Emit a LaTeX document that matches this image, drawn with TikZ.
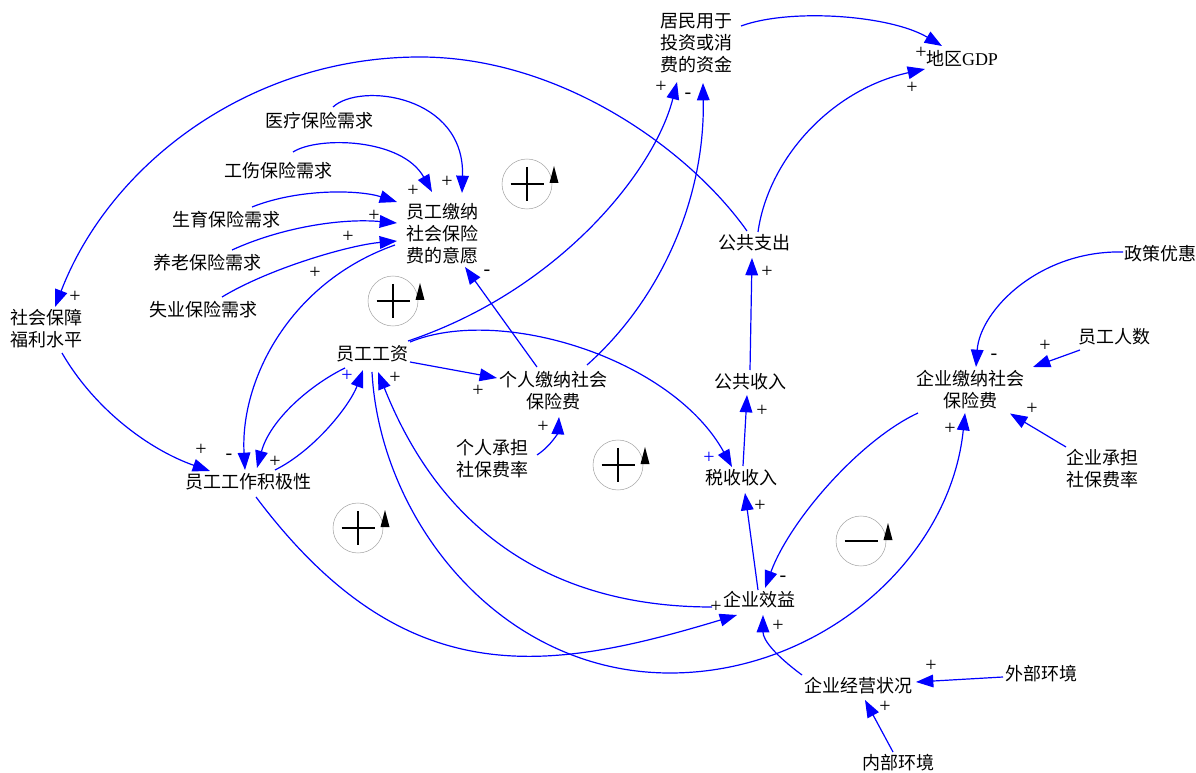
\documentclass[tikz,border=0pt]{standalone}
\usepackage{fontspec}
\setmainfont{Liberation Serif}
\newfontfamily\cjk{Noto Sans CJK SC}
\newfontfamily\lat{Liberation Serif}
\usetikzlibrary{arrows.meta}
\begin{document}
\begin{tikzpicture}[x=0.75pt,y=-0.75pt,
  lbl/.style={font=\cjk\fontsize{13.5}{16.5}\selectfont, align=center, inner sep=2pt},
  lnk/.style={draw=blue, line width=0.9pt, -{Triangle[length=13pt,width=9.5pt]}},
  pol/.style={font=\lat\fontsize{15}{16}\selectfont, inner sep=0pt},
  bpol/.style={pol, text=blue},
  loopplus/.pic={
    \draw[gray!70, line width=0.4pt] (0,0) circle[radius=18.75pt];
    \draw[line width=2.2pt] (-16.5,0) -- (16.5,0) (0,-17) -- (0,17);
    \fill (27,-18) -- (22.5,-1) -- (31.5,-1) -- cycle;
  },
  loopminus/.pic={
    \draw[gray!70, line width=0.4pt] (0,0) circle[radius=18.75pt];
    \draw[line width=2.2pt] (-16.5,0) -- (16.5,0);
    \fill (27,-18) -- (22.5,-1) -- (31.5,-1) -- cycle;
  }]
\useasboundingbox (0,0) rectangle (1196,773);

% nodes
\node[lbl] (jm) at (696,43.5) {居民用于\\投资或消\\费的资金};
\node[lbl] (gdp) at (962,58) {地区{\lat GDP}};
\node[lbl] (yl) at (319,121) {医疗保险需求};
\node[lbl] (gs) at (278,171) {工伤保险需求};
\node[lbl] (sy) at (226,220) {生育保险需求};
\node[lbl] (yla) at (207,263) {养老保险需求};
\node[lbl] (syb) at (203,310) {失业保险需求};
\node[lbl] (yjy) at (442,233.5) {员工缴纳\\社会保险\\费的意愿};
\node[lbl] (sb) at (47,329) {社会保障\\福利水平};
\node[lbl] (ygz) at (372,354) {员工工资};
\node[lbl] (grjn) at (553,390.5) {个人缴纳社会\\保险费};
\node[lbl] (grcd) at (492,459) {个人承担\\社保费率};
\node[lbl] (yjj) at (248,482) {员工工作积极性};
\node[lbl] (gzc) at (754,243) {公共支出};
\node[lbl] (gsr) at (750,382) {公共收入};
\node[lbl] (ss) at (741,478) {税收收入};
\node[lbl] (qyxy) at (759,600) {企业效益};
\node[lbl] (zc) at (1160,254) {政策优惠};
\node[lbl] (ygrs) at (1114,337) {员工人数};
\node[lbl] (qyjn) at (970,390) {企业缴纳社会\\保险费};
\node[lbl] (qycd) at (1102,468.5) {企业承担\\社保费率};
\node[lbl] (jyzk) at (858,686) {企业经营状况};
\node[lbl] (wb) at (1041,674) {外部环境};
\node[lbl] (nb) at (898,763) {内部环境};

% loop markers
\pic at (527,184) {loopplus};
\pic at (393,301) {loopplus};
\pic at (358,528) {loopplus};
\pic at (618,465) {loopplus};
\pic at (861,541) {loopminus};

% connectors
\draw[lnk] ([shift={(45,-17.5)}]jm.center) .. controls (790,8) and (890,15) .. ([shift={(-20,-12)}]gdp.center);
\draw[lnk] ([shift={(4,-11)}]gzc.center) .. controls (768,160) and (830,90) .. ([shift={(-37,11)}]gdp.center);
\draw[lnk] ([shift={(-7,-12)}]gzc.center) .. controls (689,149) and (560,57) .. (420,57) .. controls (250,57) and (110,164) .. ([shift={(8,-22)}]sb.center);
\draw[lnk] ([shift={(36,-13)}]ygz.center) .. controls (560,290) and (655,170) .. ([shift={(-19,38.5)}]jm.center);
\draw[lnk] ([shift={(34,-25.5)}]grjn.center) .. controls (660,300) and (705,200) .. ([shift={(7,39.5)}]jm.center);
\draw[lnk] ([shift={(-16,-23.5)}]grjn.center) -- ([shift={(23,33.5)}]yjy.center);
\draw[lnk] ([shift={(38,8)}]ygz.center) -- ([shift={(-56,-12.5)}]grjn.center);
\draw[lnk] ([shift={(38,-12)}]ygz.center) .. controls (500,305) and (672,358) .. ([shift={(-9,-11)}]ss.center);
\draw[lnk] ([shift={(-47,11.5)}]yjy.center) .. controls (290,282) and (240,380) .. ([shift={(-3,-12)}]yjj.center);
\draw[lnk] ([shift={(15,24)}]sb.center) .. controls (95,410) and (150,450) .. ([shift={(-38,-11)}]yjj.center);
\draw[lnk] ([shift={(8,15)}]yjj.center) .. controls (404,694) and (545,673) .. ([shift={(-22,15)}]qyxy.center);
\draw[lnk] ([shift={(-27,14)}]ygz.center) .. controls (310,385) and (270,420) .. ([shift={(9,-14)}]yjj.center);
\draw[lnk] ([shift={(27,-12)}]yjj.center) .. controls (315,450) and (350,405) .. ([shift={(-9,16)}]ygz.center);
\draw[lnk] ([shift={(-47,7)}]qyxy.center) .. controls (554,607) and (442,533) .. ([shift={(6,18)}]ygz.center);
\draw[lnk] ([shift={(0,18)}]ygz.center) .. controls (380,520) and (500,673) .. (670,673) .. controls (820,673) and (950,560) .. ([shift={(-5,23)}]qyjn.center);
\draw[lnk] ([shift={(-56,-11)}]jyzk.center) .. controls (775,655) and (763,640) .. ([shift={(4,15)}]qyxy.center);
\draw[lnk] ([shift={(-38,3)}]wb.center) -- ([shift={(58,-4)}]jyzk.center);
\draw[lnk] ([shift={(-5,-11)}]nb.center) -- ([shift={(7,14)}]jyzk.center);
\draw[lnk] ([shift={(-37,-2)}]zc.center) .. controls (1040,250) and (980,310) .. ([shift={(6,-23)}]qyjn.center);
\draw[lnk] ([shift={(-34,13)}]ygrs.center) -- ([shift={(63,-23)}]qyjn.center);
\draw[lnk] ([shift={(-36,-21.5)}]qycd.center) -- ([shift={(40,23.5)}]qyjn.center);
\draw[lnk] ([shift={(-52,23)}]qyjn.center) .. controls (860,440) and (790,520) .. ([shift={(6,-12)}]qyxy.center);
\draw[lnk] ([shift={(-1,-10)}]qyxy.center) -- ([shift={(4,15)}]ss.center);
\draw[lnk] ([shift={(2,-12)}]ss.center) -- ([shift={(-3,13)}]gsr.center);
\draw[lnk] ([shift={(0,-12)}]gsr.center) -- ([shift={(-2,15)}]gzc.center);
\draw[lnk] ([shift={(45,-4)}]grcd.center) .. controls (552,445) and (558,432) .. ([shift={(6,26.5)}]grjn.center);
\draw[lnk] ([shift={(14,-14)}]yl.center) .. controls (360,82) and (465,95) .. ([shift={(20,-40.5)}]yjy.center);
\draw[lnk] ([shift={(15,-19)}]gs.center) .. controls (318,136) and (402,138) .. ([shift={(-10,-41.5)}]yjy.center);
\draw[lnk] ([shift={(26,-13)}]sy.center) .. controls (300,188) and (360,190) .. ([shift={(-45,-31.5)}]yjy.center);
\draw[lnk] ([shift={(25,-13)}]yla.center) .. controls (280,228) and (340,218) .. ([shift={(-45,-10.5)}]yjy.center);
\draw[lnk] ([shift={(19,-13)}]syb.center) .. controls (270,268) and (350,245) .. ([shift={(-45,7.5)}]yjy.center);

% polarity labels
\node[pol] (p1) at (921,53) {+};
\node[pol] (p2) at (912,88) {+};
\node[pol] (p3) at (661,87) {+};
\node[pol] (p4) at (688,96) {-};
\node[pol] (p5) at (767,272) {+};
\node[pol] (p6) at (447,182) {+};
\node[pol] (p7) at (413,191) {+};
\node[pol] (p8) at (374,216) {+};
\node[pol] (p9) at (348,237) {+};
\node[pol] (p10) at (315,273) {+};
\node[pol] (p11) at (487,273) {-};
\node[pol] (p12) at (75,297) {+};
\node[pol] (p13) at (201,450) {+};
\node[pol] (p14) at (229,457) {-};
\node[pol] (p15) at (275,462) {+};
\node[bpol] (p16) at (347,376) {+};
\node[pol] (p17) at (395,378) {+};
\node[pol] (p18) at (478,391) {+};
\node[pol] (p19) at (543,427) {+};
\node[bpol] (p20) at (709,458) {+};
\node[pol] (p21) at (762,411) {+};
\node[pol] (p22) at (760,506) {+};
\node[pol] (p23) at (994,357) {-};
\node[pol] (p24) at (1045,346) {+};
\node[pol] (p25) at (1032,409) {+};
\node[pol] (p26) at (950,429) {+};
\node[pol] (p27) at (783,579) {-};
\node[pol] (p28) at (716,607) {+};
\node[pol] (p29) at (778,626) {+};
\node[pol] (p30) at (931,666) {+};
\node[pol] (p31) at (885,707) {+};
\end{tikzpicture}
\end{document}
